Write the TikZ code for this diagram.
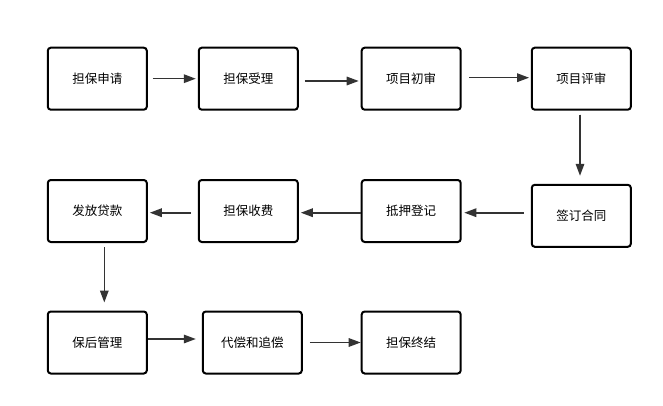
\documentclass[tikz,border=0pt]{standalone}
\usepackage{fontspec}
\setmainfont{Noto Sans CJK SC}
\usepackage{xcolor}
\usepackage{tikz}
\usetikzlibrary{arrows.meta}
\definecolor{flowLine}{RGB}{51,51,51}
\begin{document}
\begin{tikzpicture}[x=1pt, y=-1pt, >={Triangle[length=12pt, width=8.5pt]}, font=\fontsize{12.5}{15}\selectfont]
\tikzstyle{box}=[draw=black, line width=2pt, rounded corners=3pt, fill=white, align=center, minimum width=99pt, minimum height=62pt, inner sep=0pt]
\tikzstyle{arr}=[->, draw=flowLine, fill=flowLine, line width=1.6pt]
\useasboundingbox (0,0) rectangle (663,406);
% row 1
\node[box] (apply) at (97.3,78.7) {担保申请};
\node[box] (accept) at (248.3,78.7) {担保受理};
\node[box] (first) at (411.2,78.7) {项目初审};
\node[box] (review) at (581.3,78.7) {项目评审};
% row 2
\node[box] (contract) at (581.3,215.8) {签订合同};
\node[box] (pledge) at (411.2,211) {抵押登记};
\node[box] (fee) at (248.3,211) {担保收费};
\node[box] (loan) at (97.3,211) {发放贷款};
% row 3
\node[box] (after) at (97.3,342.5) {保后管理};
\node[box] (repay) at (252.3,342.5) {代偿和追偿};
\node[box] (finish) at (411.2,342.5) {担保终结};
\draw[arr, shorten <=5pt, shorten >=2pt] (apply) -- (accept);
\draw[arr, shorten <=6pt, shorten >=2pt] ([yshift=-2.3pt]accept.east) -- ([yshift=-2.3pt]first.west);
\draw[arr, shorten <=7.6pt, shorten >=1.7pt] ([yshift=1pt]first.east) -- ([yshift=1pt]review.west);
\draw[arr, shorten <=4pt, shorten >=8pt] ([xshift=-1.3pt]review.south) -- ([xshift=-1.3pt]contract.north);
\draw[arr, shorten <=7pt, shorten >=2.6pt] ([yshift=3.1pt]contract.west) -- ([yshift=-1.7pt]pledge.east);
\draw[arr, shorten >=2pt] ([yshift=-1.7pt]pledge.west) -- ([yshift=-1.7pt]fee.east);
\draw[arr, shorten <=6.7pt, shorten >=2pt] ([yshift=-1.7pt]fee.west) -- ([yshift=-1.7pt]loan.east);
\draw[arr, shorten <=4pt, shorten >=8pt] ([xshift=7pt]loan.south) -- ([xshift=7pt]after.north);
\draw[arr, shorten >=6pt] ([yshift=3.5pt]after.east) -- ([yshift=3.5pt]repay.west);
\draw[arr, shorten <=7pt] (repay) -- (finish);
\end{tikzpicture}
\end{document}
